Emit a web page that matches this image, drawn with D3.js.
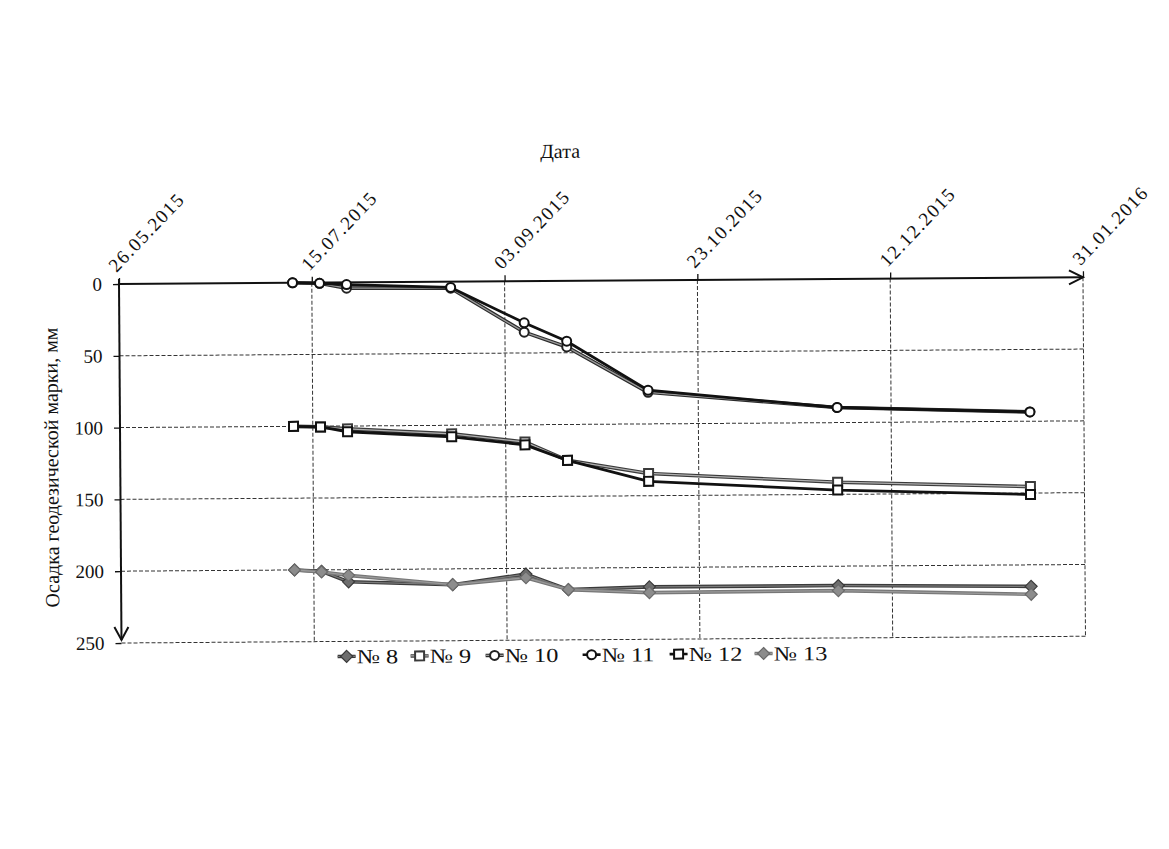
<!DOCTYPE html>
<html><head><meta charset="utf-8">
<script src="https://cdn.jsdelivr.net/npm/d3@7"></script>
<style>
body{margin:0;background:#fff}
text{font-family:"Liberation Serif","Times New Roman",serif;fill:#111}
</style>
</head><body><svg id="c" width="1169" height="849"></svg>
<script>
// ---- data ----
const dates = ["10.07.2015","17.07.2015","24.07.2015","20.08.2015","08.09.2015","19.09.2015","10.10.2015","28.11.2015","17.01.2016"];
const s8  = [200, 201, 208.5, 211, 204, 215, 213.5, 213.5, 215];
const s9  = [100, 100.5, 102, 106, 112, 125, 134.5, 141.5, 145.5];
const s10 = [0, 0.5, 4, 4.5, 35.5, 46, 78, 89.5, 93.5];
const s11 = [0, 0.5, 1.5, 4, 29, 42, 76.5, 89.5, 93.5];
const s12 = [100, 100.5, 104, 108, 114, 125, 140, 147, 151];
const s13 = [200, 201.5, 204, 211, 206.5, 215, 217.5, 217, 220.5];
const seriesNames = ["№ 8","№ 9","№ 10","№ 11","№ 12","№ 13"];
const xTickLabels = ["26.05.2015","15.07.2015","03.09.2015","23.10.2015","12.12.2015","31.01.2016"];
const yTickValues = [0,50,100,150,200,250];
const xTitle = "Дата";
const yTitle = "Осадка геодезической марки, мм";

// ---- styles ----
const styles = [
  {shape:"diamond", outer:"#3a3a3a", inner:"#7a7a7a", fill:"#6e6e6e", mstroke:"#3a3a3a"},
  {shape:"square",  outer:"#3a3a3a", inner:"#b0b0b0", fill:"#ffffff", mstroke:"#3a3a3a"},
  {shape:"circle",  outer:"#2a2a2a", inner:"#9a9a9a", fill:"#ffffff", mstroke:"#222"},
  {shape:"circle",  outer:"#111",    inner:null,      fill:"#ffffff", mstroke:"#111"},
  {shape:"square",  outer:"#111",    inner:null,      fill:"#ffffff", mstroke:"#111"},
  {shape:"diamond", outer:"#777",    inner:"#9a9a9a", fill:"#8c8c8c", mstroke:"#6a6a6a"}
];

const parse = d3.utcParse("%d.%m.%Y");
const root = d3.select("#c");
const X0 = 119, X1 = 1083, Y0 = 284, Y1 = 643;
// the scanned original is tilted slightly; reproduce the tilt
const svg = root.append("g").attr("transform",`rotate(-0.4,${X0},${Y0})`);

const x = d3.scaleUtc().domain([parse(xTickLabels[0]), parse(xTickLabels[xTickLabels.length-1])]).range([X0, X1]);
const y = d3.scaleLinear().domain([0, 250]).range([Y0, Y1]);
const fs = 19;
const ff = '"Liberation Serif","Times New Roman",serif';

// grid
const grid = svg.append("g").attr("stroke","#333").attr("stroke-width",1).attr("stroke-dasharray","4,2");
yTickValues.slice(1).forEach(v => grid.append("line").attr("x1",X0).attr("x2",X1).attr("y1",y(v)).attr("y2",y(v)));
xTickLabels.slice(1).forEach(t => grid.append("line").attr("x1",x(parse(t))).attr("x2",x(parse(t))).attr("y1",Y0).attr("y2",Y1));

// x axis (top)
const xa = svg.append("g").attr("transform",`translate(0,${Y0})`)
  .call(d3.axisTop(x).tickValues(xTickLabels.map(parse)).tickSize(6).tickSizeOuter(0).tickFormat(d3.utcFormat("%d.%m.%Y")));
xa.select(".domain").remove();
xa.selectAll(".tick line").attr("stroke","#111").attr("stroke-width",1.3);
xa.selectAll(".tick text").attr("font-size",fs).attr("letter-spacing","1.5px")
  .attr("text-anchor","start").attr("x",0).attr("y",0).attr("dy",0)
  .attr("transform","translate(-3,-11) rotate(-46)")
  .style("font-family",ff).attr("fill","#111");
svg.append("line").attr("x1",X0).attr("x2",X1).attr("y1",Y0).attr("y2",Y0).attr("stroke","#111").attr("stroke-width",2);
svg.append("path").attr("d",`M${X1-14},${Y0-7}L${X1},${Y0}L${X1-14},${Y0+7}`).attr("fill","none").attr("stroke","#111").attr("stroke-width",2);

// y axis (left)
const ya = svg.append("g").attr("transform",`translate(${X0},0)`)
  .call(d3.axisLeft(y).tickValues(yTickValues).tickSize(6).tickSizeOuter(0).tickPadding(11));
ya.select(".domain").remove();
ya.selectAll(".tick line").attr("stroke","#111").attr("stroke-width",1.3);
ya.selectAll(".tick text").attr("font-size",fs).style("font-family",ff).attr("fill","#111");
svg.append("line").attr("x1",X0).attr("x2",X0).attr("y1",Y0-5).attr("y2",Y1-3).attr("stroke","#111").attr("stroke-width",2);
svg.append("path").attr("d",`M${X0-7},${Y1-16}L${X0},${Y1-3}L${X0+7},${Y1-16}`).attr("fill","none").attr("stroke","#111").attr("stroke-width",2);

// titles
svg.append("text").attr("x",561).attr("y",161).attr("text-anchor","middle").attr("font-size",20).text(xTitle);
svg.append("text").attr("transform",`translate(57,467) rotate(-90)`).attr("text-anchor","middle").attr("font-size",20).text(yTitle);

// markers
function marker(g, st, cx, cy){
  if(st.shape==="circle") g.append("circle").attr("cx",cx).attr("cy",cy).attr("r",4.5).attr("fill",st.fill).attr("stroke",st.mstroke).attr("stroke-width",2);
  else if(st.shape==="square") g.append("rect").attr("x",cx-4.5).attr("y",cy-4.5).attr("width",9).attr("height",9).attr("fill",st.fill).attr("stroke",st.mstroke).attr("stroke-width",2);
  else g.append("path").attr("d",`M${cx},${cy-6}L${cx+6},${cy}L${cx},${cy+6}L${cx-6},${cy}Z`).attr("fill",st.fill).attr("stroke",st.mstroke).attr("stroke-width",1.2);
}

const all = [s8,s9,s10,s11,s12,s13];
const line = d3.line().x((d,i)=>x(parse(dates[i]))).y(d=>y(d));
all.forEach((vals,k)=>{
  const st = styles[k];
  const g = svg.append("g");
  g.append("path").datum(vals).attr("d",line).attr("fill","none").attr("stroke",st.outer).attr("stroke-width",st.inner?3.6:2.8).attr("stroke-linejoin","round");
  if(st.inner) g.append("path").datum(vals).attr("d",line).attr("fill","none").attr("stroke",st.inner).attr("stroke-width",1.3);
  vals.forEach((v,i)=>marker(g, st, x(parse(dates[i])), y(v)));
});

// legend
const legX = [335, 408, 483, 580, 667, 752];
const legY = 658;
seriesNames.forEach((n,k)=>{
  const st = styles[k];
  const g = svg.append("g");
  const sx = legX[k];
  g.append("line").attr("x1",sx).attr("x2",sx+18).attr("y1",legY).attr("y2",legY).attr("stroke",st.outer).attr("stroke-width",st.inner?3.4:2.6);
  if(st.inner) g.append("line").attr("x1",sx).attr("x2",sx+18).attr("y1",legY).attr("y2",legY).attr("stroke",st.inner).attr("stroke-width",1.2);
  marker(g, st, sx+9, legY);
  g.append("text").attr("transform",`translate(${sx+19},${legY+7}) scale(1.22,1)`).attr("font-size",20).text(n);
});
</script>
</body></html>
